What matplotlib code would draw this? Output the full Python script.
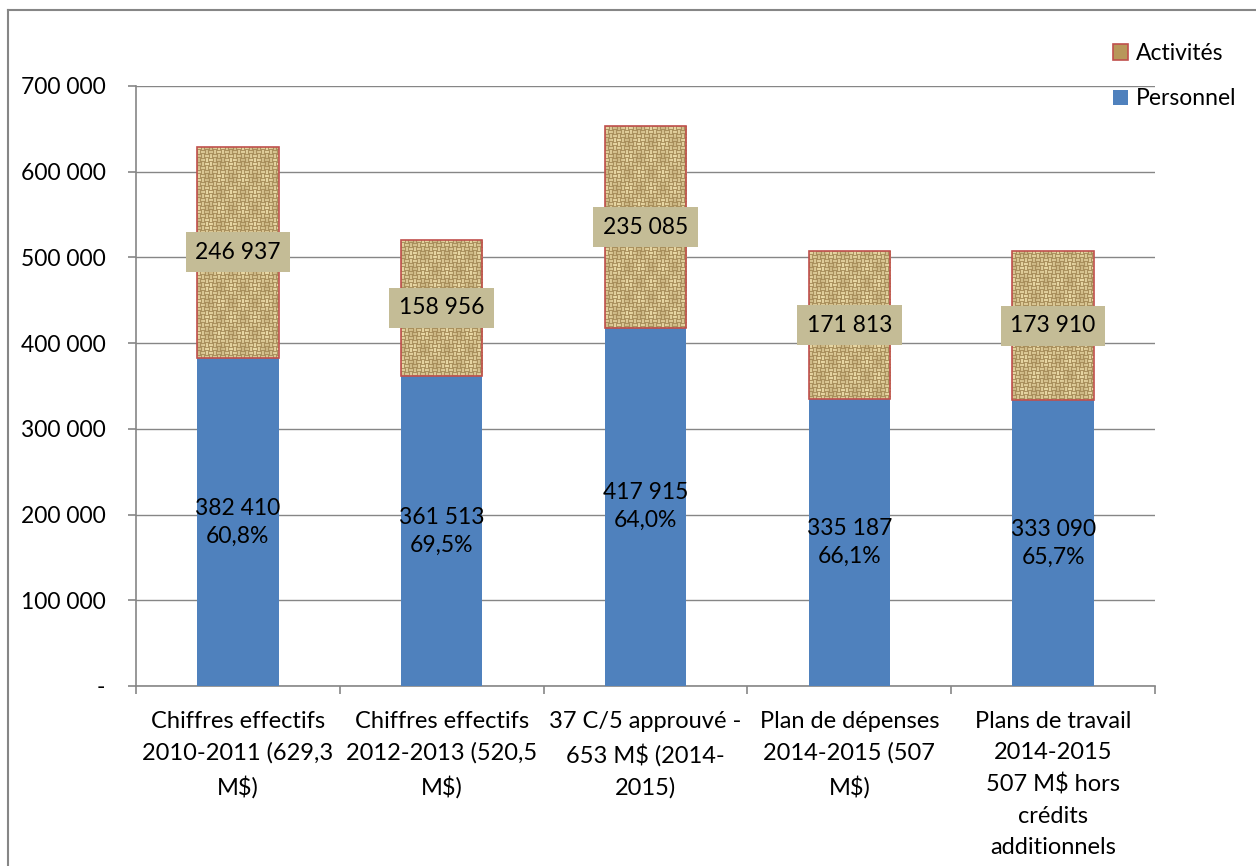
import numpy as np
import matplotlib
matplotlib.use("Agg")
import matplotlib.pyplot as plt
from matplotlib.patches import Patch
from matplotlib.lines import Line2D

# Budget breakdown (thousands of US$)
categories = [
    "Chiffres effectifs\n2010-2011 (629,3\nM\\$)",
    "Chiffres effectifs\n2012-2013 (520,5\nM\\$)",
    "37 C/5 approuvé -\n653 M\\$ (2014-\n2015)",
    "Plan de dépenses\n2014-2015 (507\nM\\$)",
    "Plans de travail\n2014-2015\n507 M\\$ hors\ncrédits\nadditionnels",
]
personnel = [382410, 361513, 417915, 335187, 333090]
activites = [246937, 158956, 235085, 171813, 173910]
personnel_pct = ["60,8%", "69,5%", "64,0%", "66,1%", "65,7%"]
yticks = [0, 100000, 200000, 300000, 400000, 500000, 600000, 700000]

FONT = "Lato"
plt.rcParams["font.family"] = [FONT, "DejaVu Sans"]
GRAY = "#868686"
BLUE = "#4f81bd"
RED_EDGE = "#c0504d"
LABEL_BG = "#c4bc96"
FS = 16.5


def fmt(v):
    return f"{v:,}".replace(",", " ")


def weave_texture(h, w):
    """Burlap-like basket weave pattern in RGB."""
    y, x = np.mgrid[0:h, 0:w]
    cell = ((x // 4) + (y // 4)) % 2
    horiz = np.cos(np.pi * ((y % 4) + 0.5) / 4 - np.pi / 2) ** 2
    vert = np.cos(np.pi * ((x % 4) + 0.5) / 4 - np.pi / 2) ** 2
    v = np.where(cell == 0, horiz, vert)
    # slow variation of thread tone
    v = 0.25 + 0.75 * v * (0.8 + 0.2 * np.cos(2 * np.pi * x / 23.0) * np.cos(2 * np.pi * y / 31.0))
    dark = np.array([0.52, 0.40, 0.20])
    light = np.array([0.96, 0.90, 0.70])
    img = dark[None, None, :] + (light - dark)[None, None, :] * v[..., None]
    return np.clip(img, 0, 1)


fig = plt.figure(figsize=(12.56, 8.66), dpi=100)
ax = fig.add_axes([0.1083, 0.2079, 0.8113, 0.6928])

x = np.arange(len(categories))
width = 0.4

ax.bar(x, personnel, width, color=BLUE, zorder=3)
act_bars = ax.bar(x, activites, width, bottom=personnel, facecolor="none",
                  edgecolor=RED_EDGE, linewidth=1.2, zorder=4)

px_per_unit = 0.6928 * 866 / 700000
for rect in act_bars:
    bx, by = rect.get_x(), rect.get_y()
    bw, bh = rect.get_width(), rect.get_height()
    hpx = max(int(bh * px_per_unit), 2)
    wpx = 82
    tex = weave_texture(hpx, wpx)
    im = ax.imshow(tex, extent=[bx, bx + bw, by, by + bh], aspect="auto",
                   interpolation="nearest", zorder=3.5, origin="upper")
    im.set_clip_path(rect)

# value labels
for xi, p, a, pct in zip(x, personnel, activites, personnel_pct):
    ax.text(xi, p / 2, f"{fmt(p)}\n{pct}", ha="center", va="center",
            fontsize=FS, linespacing=1.4, color="black", zorder=6)
    ax.text(xi, p + a / 2, fmt(a), ha="center", va="center", fontsize=FS,
            color="black", zorder=6,
            bbox=dict(boxstyle="square,pad=0.42", facecolor=LABEL_BG,
                      edgecolor="none"))

ax.set_xlim(-0.5, len(categories) - 0.5)
ax.set_ylim(0, 700000)
ax.set_yticks(yticks)
ax.set_yticklabels(["-" if v == 0 else fmt(v) for v in yticks], fontsize=FS)
ax.yaxis.grid(True, color=GRAY, linewidth=1, zorder=0)
ax.set_axisbelow(True)

ax.set_xticks(x)
ax.set_xticklabels(categories, fontsize=17, linespacing=1.6)
ax.set_xticks(np.arange(-0.5, len(categories)), minor=True)
ax.tick_params(axis="x", which="major", length=0, pad=18)
ax.tick_params(axis="x", which="minor", length=6, color=GRAY, width=1.2)
ax.tick_params(axis="y", length=6, color=GRAY, width=1.2, pad=16)

for s in ["top", "right"]:
    ax.spines[s].set_visible(False)
for s in ["left", "bottom"]:
    ax.spines[s].set_color(GRAY)
    ax.spines[s].set_linewidth(1.2)

handles = [
    Patch(facecolor="#b8975a", edgecolor=RED_EDGE, linewidth=1.2),
    Patch(facecolor=BLUE, edgecolor="none"),
]
fig.legend(handles, ["Activités", "Personnel"], loc="upper left",
           bbox_to_anchor=(1104 / 1256, 1 - 34 / 866), frameon=False,
           fontsize=FS, handlelength=0.65, handleheight=0.65,
           handletextpad=0.35, labelspacing=1.05, borderaxespad=0)

# outer frame lines
fig.add_artist(Line2D([8 / 1256, 8 / 1256], [0, 1 - 10 / 866],
                      transform=fig.transFigure, color=GRAY, linewidth=1.5))
fig.add_artist(Line2D([8 / 1256, 1], [1 - 10 / 866, 1 - 10 / 866],
                      transform=fig.transFigure, color=GRAY, linewidth=1.5))

fig.savefig("out.png", dpi=100)
